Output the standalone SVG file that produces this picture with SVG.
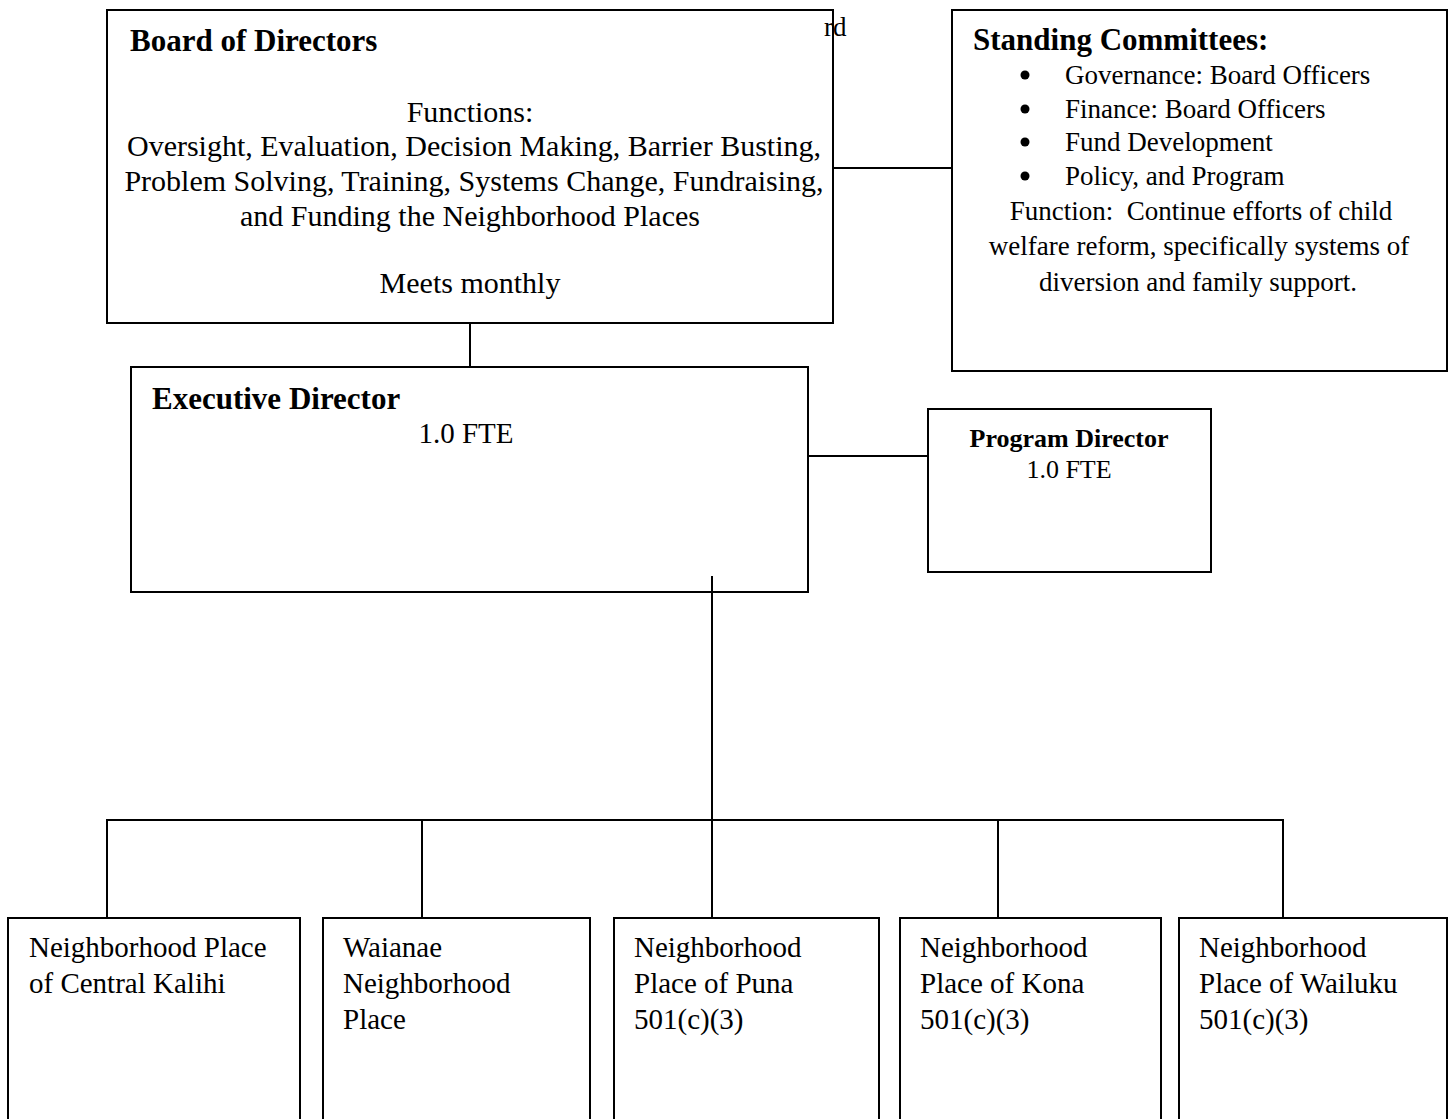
<svg xmlns="http://www.w3.org/2000/svg" width="1450" height="1119" viewBox="0 0 1450 1119">
<defs>
<style>
.box{fill:#fff;stroke:#000;stroke-width:2}
.ln{stroke:#000;stroke-width:2;fill:none}
.dot{fill:#000}
text{font-family:"Liberation Serif","Times New Roman",serif;fill:#000}
.h{font-weight:bold;font-size:31px}
.b{font-size:29px}
.bb{font-size:30px}
.c{font-size:27px}
.p{font-size:26px}
.m{text-anchor:middle}
</style>
</defs>
<rect width="1450" height="1119" fill="#fff"/>
<text x="824" y="36" style="font-size:27px">rd</text>
<g id="board">
<rect class="box" x="107" y="10" width="726" height="313" style="fill:none"/>
<text class="h" x="130" y="51">Board of Directors</text>
<text class="bb m" x="470" y="122">Functions:</text>
<text class="bb m" x="474" y="156">Oversight, Evaluation, Decision Making, Barrier Busting,</text>
<text class="bb m" x="474" y="191">Problem Solving, Training, Systems Change, Fundraising,</text>
<text class="bb m" x="470" y="226">and Funding the Neighborhood Places</text>
<text class="bb m" x="470" y="293">Meets monthly</text>
</g>
<g id="committees">
<rect class="box" x="952" y="10" width="495" height="361"/>
<text class="h" x="973" y="50">Standing Committees:</text>
<circle class="dot" cx="1025" cy="75" r="4.5"/>
<text class="c" x="1065" y="84">Governance: Board Officers</text>
<circle class="dot" cx="1025" cy="109" r="4.5"/>
<text class="c" x="1065" y="118">Finance: Board Officers</text>
<circle class="dot" cx="1025" cy="142" r="4.5"/>
<text class="c" x="1065" y="151">Fund Development</text>
<circle class="dot" cx="1025" cy="176" r="4.5"/>
<text class="c" x="1065" y="185">Policy, and Program</text>
<text class="c m" x="1201" y="220" xml:space="preserve">Function:  Continue efforts of child</text>
<text class="c m" x="1199" y="255">welfare reform, specifically systems of</text>
<text class="c m" x="1198" y="291">diversion and family support.</text>
</g>
<g id="executive">
<rect class="box" x="131" y="367" width="677" height="225"/>
<text class="h" x="152" y="409">Executive Director</text>
<text class="b m" x="466" y="443">1.0 FTE</text>
</g>
<g id="program">
<rect class="box" x="928" y="409" width="283" height="163"/>
<text class="p m" x="1069" y="447" style="font-weight:bold">Program Director</text>
<text class="p m" x="1069" y="478">1.0 FTE</text>
</g>
<g id="np-kalihi">
<rect class="box" x="8" y="918" width="292" height="210"/>
<text class="b" x="29" y="957">Neighborhood Place</text>
<text class="b" x="29" y="993">of Central Kalihi</text>
</g>
<g id="np-waianae">
<rect class="box" x="323" y="918" width="267" height="210"/>
<text class="b" x="343" y="957">Waianae</text>
<text class="b" x="343" y="993">Neighborhood</text>
<text class="b" x="343" y="1029">Place</text>
</g>
<g id="np-puna">
<rect class="box" x="614" y="918" width="265" height="210"/>
<text class="b" x="634" y="957">Neighborhood</text>
<text class="b" x="634" y="993">Place of Puna</text>
<text class="b" x="634" y="1029">501(c)(3)</text>
</g>
<g id="np-kona">
<rect class="box" x="900" y="918" width="261" height="210"/>
<text class="b" x="920" y="957">Neighborhood</text>
<text class="b" x="920" y="993">Place of Kona</text>
<text class="b" x="920" y="1029">501(c)(3)</text>
</g>
<g id="np-wailuku">
<rect class="box" x="1179" y="918" width="268" height="210"/>
<text class="b" x="1199" y="957">Neighborhood</text>
<text class="b" x="1199" y="993">Place of Wailuku</text>
<text class="b" x="1199" y="1029">501(c)(3)</text>
</g>
<g id="connectors">
<line class="ln" x1="833" y1="168" x2="952" y2="168"/>
<line class="ln" x1="470" y1="323" x2="470" y2="367"/>
<line class="ln" x1="808" y1="456" x2="928" y2="456"/>
<line class="ln" x1="712" y1="576" x2="712" y2="918"/>
<line class="ln" x1="106" y1="820" x2="1284" y2="820"/>
<line class="ln" x1="107" y1="820" x2="107" y2="918"/>
<line class="ln" x1="422" y1="820" x2="422" y2="918"/>
<line class="ln" x1="998" y1="820" x2="998" y2="918"/>
<line class="ln" x1="1283" y1="820" x2="1283" y2="918"/>
</g>
</svg>
